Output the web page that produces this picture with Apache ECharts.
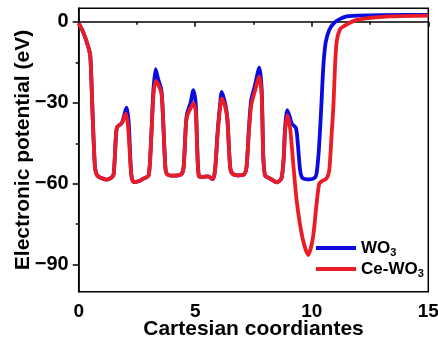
<!DOCTYPE html>
<html><head><meta charset="utf-8">
<script src="https://cdn.jsdelivr.net/npm/echarts@6/dist/echarts.min.js"></script>
<style>html,body{margin:0;padding:0;background:#fff}#c{width:438px;height:347px}</style>
</head><body><div id="c"></div>
<script>
var seriesNames = ['WO3', 'Ce-WO3'];
var xTicks = [0, 5, 10, 15];
var yTicks = [0, -30, -60, -90];
var yMinorTicks = [-15, -45, -75];

var xWO3 = [0,0.2,0.4,0.5,0.6,0.7,0.8,1.0,1.2,1.4,1.5,1.6,1.65,1.85,2.0,2.06,2.15,2.25,2.35,2.6,2.8,3.0,3.1,3.2,3.3,3.4,3.55,3.62,3.72,3.8,4.1,4.4,4.5,4.6,4.65,4.8,4.92,5.02,5.08,5.15,5.3,5.55,5.75,5.85,5.95,6.05,6.14,6.3,6.38,6.5,6.6,6.9,7.1,7.2,7.3,7.4,7.55,7.75,7.85,7.92,8.0,8.2,8.5,8.7,8.8,8.85,8.95,9.05,9.15,9.32,9.4,9.5,9.6,9.9,10.1,10.2,10.3,10.4,10.5,10.6,10.75,10.95,11.2,11.5,12,13,15];
var yWO3 = [-0.5,-4,-9,-13,-35,-54,-57,-58,-58.5,-57.8,-56.5,-42,-39,-37.5,-33,-31.8,-38,-56,-59.4,-59,-58,-57,-45,-26,-17.5,-21,-25.5,-36,-54,-56.5,-57,-56.5,-54,-38,-34,-30,-25.3,-30,-45,-57,-57.5,-57.3,-58.3,-55,-42,-32,-26,-31,-36,-54,-56.3,-56.9,-56.5,-54,-40,-29,-24,-17,-25,-50,-57,-58,-59.5,-58,-50,-40,-32.7,-35,-37.8,-39.3,-45,-55,-57.8,-58.4,-58,-56.5,-48,-33,-16,-7.5,-3,-0.5,1,2,2.3,2.5,2.6];

var xCe = [0,0.2,0.4,0.5,0.6,0.7,0.8,1.0,1.2,1.4,1.5,1.6,1.65,1.85,1.97,2.02,2.12,2.25,2.35,2.6,2.8,3.0,3.1,3.2,3.3,3.4,3.55,3.62,3.72,3.8,4.1,4.4,4.5,4.6,4.65,4.8,4.92,5.02,5.08,5.15,5.3,5.55,5.75,5.85,5.95,6.05,6.14,6.3,6.38,6.5,6.6,6.9,7.1,7.2,7.3,7.4,7.55,7.75,7.85,7.92,8.0,8.2,8.5,8.7,8.8,8.85,8.95,9.07,9.2,9.36,9.6,9.85,10.05,10.2,10.32,10.45,10.64,10.75,10.85,10.93,11.0,11.07,11.2,11.36,11.93,13.36,15];
var yCe = [-0.5,-4,-9,-13,-35,-54,-57,-58,-58.5,-57.8,-56.5,-42,-39,-37.5,-35,-34,-39,-56,-59.4,-59,-58,-57,-45,-28,-21.9,-23,-26.5,-36,-54,-56.5,-57,-56.5,-54,-38,-35,-32,-30.2,-33,-46,-57,-57.5,-57.3,-58.3,-55,-43,-33,-28.4,-32,-36.5,-54,-56.3,-56.9,-56.5,-54,-41,-31,-26,-20.3,-27,-50,-57,-58,-59.5,-58,-50,-41,-34.6,-39.4,-52,-66.8,-80,-86.4,-80,-68,-60,-59,-58,-55,-42,-31,-16,-7.3,-3,-1.7,0.7,2,2.3];

function zip(xs, ys){ return xs.map(function(x,i){ return [x, ys[i]]; }); }
function fmtY(v){ return v < 0 ? '\u2212' + Math.abs(v) : String(v); }

var chart = echarts.init(document.getElementById('c'), null, {renderer:'canvas'});
var font = 'Liberation Sans, Arial, sans-serif';
chart.setOption({
  animation: false,
  backgroundColor: '#fff',
  grid: {left: 78.7, right: 9.7, top: 8.3, bottom: 55.3, show: true, borderColor: '#000', borderWidth: 1.5,
         containLabel: false, outerBoundsMode: 'none'},
  legend: {
    left: 316, top: 238, padding: 0, orient: 'vertical', itemWidth: 40, itemHeight: 4, itemGap: 0,
    icon: 'rect',
    data: seriesNames,
    formatter: function(n){ return n === 'WO3' ? '{n|WO}{s|3}' : '{n|Ce-WO}{s|3}'; },
    textStyle: {
      color: '#000', fontFamily: font, fontWeight: 'bold', fontSize: 17,
      rich: {
        n: {fontSize: 17, fontWeight: 'bold', fontFamily: font, color: '#000', lineHeight: 20, padding: [2, 0, 2, 0], verticalAlign: 'top'},
        s: {fontSize: 11, fontWeight: 'bold', fontFamily: font, color: '#000', lineHeight: 12, verticalAlign: 'bottom'}
      }
    }
  },
  xAxis: {
    type: 'value', min: 0, max: 15, interval: 5,
    name: 'Cartesian coordiantes', nameLocation: 'middle', nameGap: 27.5, nameMoveOverlap: false,
    nameTextStyle: {fontFamily: font, fontWeight: 'bold', fontSize: 21, color: '#000'},
    axisLine: {lineStyle: {color: '#000', width: 1.5}},
    axisTick: {show: true, inside: false, length: 5, lineStyle: {color: '#000', width: 1.5}},
    minorTick: {show: true, splitNumber: 2, length: 3, lineStyle: {color: '#000', width: 1.5}},
    axisLabel: {fontFamily: font, fontWeight: 'bold', fontSize: 19, color: '#000', margin: 11,
      customValues: xTicks},
    splitLine: {show: false}
  },
  yAxis: [{
    type: 'value', min: -100, max: 5,
    name: 'Electronic potential (eV)', nameLocation: 'middle', nameGap: 45, nameMoveOverlap: false,
    nameTextStyle: {fontFamily: font, fontWeight: 'bold', fontSize: 21, color: '#000'},
    axisLine: {lineStyle: {color: '#000', width: 1.5}},
    axisTick: {show: true, length: 6, customValues: yTicks, lineStyle: {color: '#000', width: 1.5}},
    axisLabel: {fontFamily: font, fontWeight: 'bold', fontSize: 20, color: '#000', margin: 10,
      customValues: yTicks, formatter: fmtY},
    splitLine: {show: false}
  }, {
    type: 'value', min: -100, max: 5, position: 'left',
    axisLine: {show: false},
    axisTick: {show: true, length: 3, customValues: yMinorTicks, lineStyle: {color: '#000', width: 1.5}},
    axisLabel: {show: false, customValues: yMinorTicks},
    splitLine: {show: false}
  }],
  series: [
    {name: 'WO3', type: 'line', data: zip(xWO3, yWO3), yAxisIndex: 0, smooth: 0.25, showSymbol: false,
     lineStyle: {color: '#0b0be0', width: 3.8}, itemStyle: {color: '#0b0be0'}},
    {name: 'Ce-WO3', type: 'line', data: zip(xCe, yCe), yAxisIndex: 0, smooth: 0.25, showSymbol: false,
     lineStyle: {color: '#ec1c24', width: 3.8}, itemStyle: {color: '#ec1c24'}}
  ]
});
</script></body></html>
